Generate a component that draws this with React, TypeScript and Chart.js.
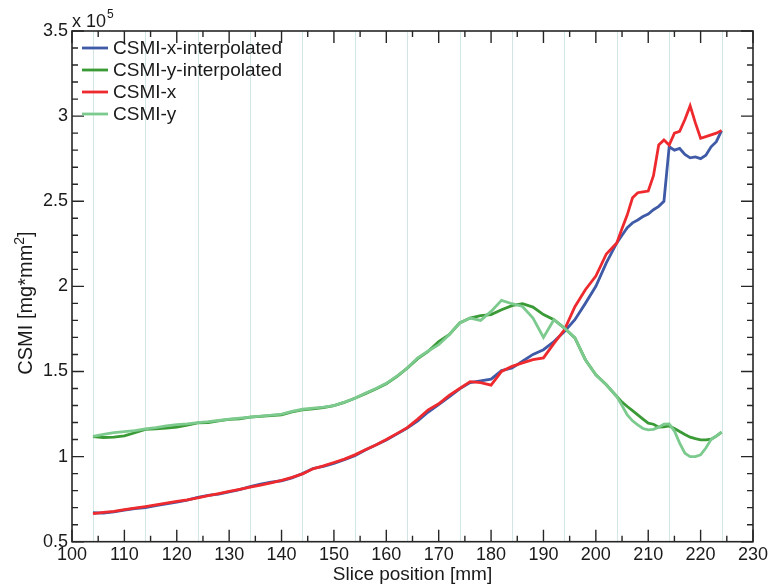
import React, { useEffect, useRef } from 'react';
import { Chart, registerables } from 'chart.js';

Chart.register(...registerables);

// Slice positions [mm]
const slicePositions = [
  104, 106, 108, 110, 112, 114, 116, 118, 120, 122, 124, 126, 128, 130, 132, 134, 136, 138, 140, 142,
  144, 146, 148, 150, 152, 154, 156, 158, 160, 162, 164, 166, 168, 170, 172, 174, 176, 178, 180, 182,
  184, 186, 188, 190, 192, 194, 196, 198, 200, 202, 204,
  205, 206, 207, 208, 209, 210, 211, 212, 213, 214, 215, 216, 217, 218, 219, 220, 221, 222, 223, 224,
];

// CSMI values (x 10^5 mg*mm^2)
const csmiXInterpolated = [
  0.670, 0.668, 0.675, 0.685, 0.695, 0.700, 0.712, 0.722, 0.733, 0.744, 0.760, 0.772, 0.780, 0.792, 0.806, 0.824, 0.838, 0.850, 0.858, 0.875,
  0.900, 0.930, 0.942, 0.960, 0.982, 1.005, 1.038, 1.068, 1.098, 1.132, 1.168, 1.210, 1.262, 1.305, 1.350, 1.398, 1.435, 1.445, 1.455, 1.505,
  1.520, 1.560, 1.600, 1.628, 1.676, 1.735, 1.804, 1.900, 2.000, 2.138, 2.255,
  2.300, 2.345, 2.373, 2.390, 2.410, 2.425, 2.450, 2.470, 2.500, 2.820, 2.800, 2.810, 2.775, 2.755, 2.760, 2.750, 2.770, 2.820, 2.850, 2.915,
];

const csmiYInterpolated = [
  1.118, 1.112, 1.114, 1.122, 1.140, 1.160, 1.163, 1.168, 1.173, 1.185, 1.198, 1.200, 1.210, 1.218, 1.222, 1.232, 1.236, 1.240, 1.245, 1.262,
  1.275, 1.280, 1.288, 1.300, 1.318, 1.343, 1.370, 1.397, 1.428, 1.470, 1.520, 1.575, 1.618, 1.676, 1.716, 1.785, 1.814, 1.828, 1.834, 1.863,
  1.887, 1.898, 1.878, 1.834, 1.804, 1.755, 1.697, 1.569, 1.480, 1.422, 1.353,
  1.320, 1.294, 1.270, 1.245, 1.220, 1.196, 1.190, 1.173, 1.175, 1.180, 1.165, 1.147, 1.130, 1.114, 1.105, 1.098, 1.098, 1.102, 1.120, 1.143,
];

const csmiX = [
  0.665, 0.672, 0.678, 0.688, 0.697, 0.706, 0.716, 0.726, 0.737, 0.746, 0.757, 0.770, 0.782, 0.795, 0.807, 0.820, 0.833, 0.846, 0.860, 0.878,
  0.898, 0.928, 0.945, 0.965, 0.985, 1.010, 1.040, 1.068, 1.100, 1.135, 1.170, 1.220, 1.275, 1.310, 1.360, 1.400, 1.440, 1.435, 1.420, 1.500,
  1.530, 1.550, 1.570, 1.580, 1.665, 1.745, 1.880, 1.980, 2.060, 2.190, 2.255,
  2.340, 2.420, 2.520, 2.550, 2.555, 2.560, 2.650, 2.830, 2.860, 2.830, 2.900, 2.910, 2.980, 3.060, 2.960, 2.870, 2.880, 2.890, 2.900, 2.915,
];

const csmiY = [
  1.118, 1.130, 1.141, 1.147, 1.152, 1.163, 1.170, 1.180, 1.188, 1.192, 1.200, 1.205, 1.212, 1.220, 1.226, 1.232, 1.238, 1.243, 1.250, 1.265,
  1.278, 1.285, 1.290, 1.300, 1.320, 1.343, 1.372, 1.400, 1.430, 1.472, 1.520, 1.580, 1.620, 1.657, 1.716, 1.785, 1.814, 1.800, 1.853, 1.918,
  1.898, 1.882, 1.814, 1.700, 1.804, 1.755, 1.697, 1.569, 1.480, 1.422, 1.353,
  1.300, 1.245, 1.210, 1.186, 1.165, 1.157, 1.160, 1.173, 1.190, 1.192, 1.150, 1.079, 1.020, 1.000, 1.000, 1.010, 1.050, 1.100, 1.120, 1.143,
];

const seriesNames = ['CSMI-x-interpolated', 'CSMI-y-interpolated', 'CSMI-x', 'CSMI-y'];
const seriesColors = ['#3f5aa6', '#3a9a35', '#ee2a2e', '#7cca8e'];

// Axis ticks
const xMajorTicks = [100, 110, 120, 130, 140, 150, 160, 170, 180, 190, 200, 210, 220, 230];
const xMinorTicks = [105, 115, 125, 135, 145, 155, 165, 175, 185, 195, 205, 215, 225];
const yMajorTicks = [0.5, 1, 1.5, 2, 2.5, 3, 3.5];
const yMinorTicks = [
  0.6, 0.7, 0.8, 0.9, 1.1, 1.2, 1.3, 1.4, 1.6, 1.7, 1.8, 1.9, 2.1, 2.2, 2.3, 2.4, 2.6, 2.7, 2.8, 2.9,
  3.1, 3.2, 3.3, 3.4,
];
const yTickLabels = ['0.5', '1', '1.5', '2', '2.5', '3', '3.5'];
const sliceGridPositions = [104, 114, 124, 134, 144, 154, 164, 174, 184, 194, 204, 214, 224];

const FONT = '"Liberation Sans", Arial, Helvetica, sans-serif';
const AXIS_COLOR = '#262626';

const decorPlugin = {
  id: 'decor',
  beforeDatasetsDraw(chart: any) {
    const { ctx, chartArea: a, scales } = chart;
    const x = scales.x;
    ctx.save();
    ctx.strokeStyle = '#d3e6e6';
    ctx.lineWidth = 1;
    for (const g of sliceGridPositions) {
      const px = Math.round(x.getPixelForValue(g)) + 0.5;
      ctx.beginPath();
      ctx.moveTo(px, a.top);
      ctx.lineTo(px, a.bottom);
      ctx.stroke();
    }
    ctx.restore();
  },
  afterDraw(chart: any) {
    const { ctx, chartArea: a, scales } = chart;
    const x = scales.x;
    const y = scales.y;
    ctx.save();
    // box
    ctx.strokeStyle = AXIS_COLOR;
    ctx.lineWidth = 1.6;
    ctx.strokeRect(a.left, a.top, a.right - a.left, a.bottom - a.top);
    // ticks
    ctx.lineWidth = 1.4;
    const MAJ = 12;
    const MIN = 6;
    const drawX = (v: number, len: number) => {
      const px = x.getPixelForValue(v);
      ctx.beginPath();
      ctx.moveTo(px, a.bottom);
      ctx.lineTo(px, a.bottom - len);
      ctx.moveTo(px, a.top);
      ctx.lineTo(px, a.top + len);
      ctx.stroke();
    };
    const drawY = (v: number, len: number) => {
      const py = y.getPixelForValue(v);
      ctx.beginPath();
      ctx.moveTo(a.left, py);
      ctx.lineTo(a.left + len, py);
      ctx.moveTo(a.right, py);
      ctx.lineTo(a.right - len, py);
      ctx.stroke();
    };
    xMajorTicks.forEach((v) => drawX(v, MAJ));
    xMinorTicks.forEach((v) => drawX(v, MIN));
    yMajorTicks.forEach((v) => drawY(v, MAJ));
    yMinorTicks.forEach((v) => drawY(v, MIN));

    // legend
    ctx.font = `19px ${FONT}`;
    ctx.textBaseline = 'middle';
    ctx.textAlign = 'left';
    seriesNames.forEach((name, i) => {
      const cy = a.top + 17 + i * 22;
      ctx.strokeStyle = seriesColors[i];
      ctx.lineWidth = 2.8;
      ctx.beginPath();
      ctx.moveTo(a.left + 10, cy);
      ctx.lineTo(a.left + 36, cy);
      ctx.stroke();
      ctx.fillStyle = '#1a1a1a';
      ctx.fillText(name, a.left + 41, cy + 1);
    });

    // exponent label
    ctx.fillStyle = '#1a1a1a';
    ctx.textBaseline = 'alphabetic';
    ctx.font = `18px ${FONT}`;
    ctx.fillText('x 10', a.left, a.top - 4);
    const w10 = ctx.measureText('x 10').width;
    ctx.font = `12px ${FONT}`;
    ctx.fillText('5', a.left + w10 + 1, a.top - 13);

    // x title
    ctx.font = `19px ${FONT}`;
    ctx.textAlign = 'center';
    ctx.fillText('Slice position [mm]', (a.left + a.right) / 2, 580);

    // y title
    ctx.save();
    ctx.translate(32, 303);
    ctx.rotate(-Math.PI / 2);
    const main = 'CSMI [mg*mm';
    ctx.font = `20px ${FONT}`;
    const wMain = ctx.measureText(main).width;
    ctx.font = `14px ${FONT}`;
    const wSup = ctx.measureText('2').width;
    ctx.font = `20px ${FONT}`;
    const wEnd = ctx.measureText(']').width;
    const total = wMain + wSup + wEnd;
    let cx = -total / 2;
    ctx.textAlign = 'left';
    ctx.fillText(main, cx, 0);
    cx += wMain;
    ctx.font = `14px ${FONT}`;
    ctx.fillText('2', cx, -8);
    cx += wSup;
    ctx.font = `20px ${FONT}`;
    ctx.fillText(']', cx, 0);
    ctx.restore();

    ctx.restore();
  },
};

export default function App() {
  const canvasRef = useRef<HTMLCanvasElement | null>(null);

  useEffect(() => {
    const canvas = canvasRef.current;
    if (!canvas) return;
    const seriesValues = [csmiXInterpolated, csmiYInterpolated, csmiX, csmiY];
    const drawOrder = [4, 3, 2, 1];
    const chart = new Chart(canvas, {
      type: 'line',
      data: {
        datasets: seriesNames.map((name, i) => ({
          label: name,
          data: slicePositions.map((p, j) => ({ x: p, y: seriesValues[i][j] })),
          borderColor: seriesColors[i],
          backgroundColor: seriesColors[i],
          borderWidth: 2.8,
          pointRadius: 0,
          tension: 0,
          fill: false,
          order: drawOrder[i],
        })),
      },
      options: {
        responsive: false,
        animation: false,
        devicePixelRatio: 1,
        events: [],
        layout: { padding: { left: 0, right: 19, top: 31, bottom: 0 } },
        plugins: { legend: { display: false }, tooltip: { enabled: false } },
        scales: {
          x: {
            type: 'linear',
            min: 100,
            max: 230,
            grid: { display: false, drawTicks: false },
            border: { display: false },
            ticks: {
              font: { family: FONT, size: 18 },
              color: '#1a1a1a',
              padding: 3,
              maxRotation: 0,
              autoSkip: false,
            },
            afterBuildTicks: (s: any) => {
              s.ticks = xMajorTicks.map((v) => ({ value: v }));
            },
            afterFit: (s: any) => {
              s.height = 45.3;
            },
          },
          y: {
            type: 'linear',
            min: 0.5,
            max: 3.5,
            grid: { display: false, drawTicks: false },
            border: { display: false },
            ticks: {
              font: { family: FONT, size: 18 },
              color: '#1a1a1a',
              padding: 4,
              autoSkip: false,
              callback: (v: any) => {
                const idx = yMajorTicks.indexOf(Number(v));
                return idx >= 0 ? yTickLabels[idx] : '';
              },
            },
            afterBuildTicks: (s: any) => {
              s.ticks = yMajorTicks.map((v) => ({ value: v }));
            },
            afterFit: (s: any) => {
              s.width = 72;
            },
          },
        },
      },
      plugins: [decorPlugin],
    } as any);
    return () => chart.destroy();
  }, []);

  return (
    <div style={{ position: 'fixed', left: 0, top: 0, width: 772, height: 587, background: '#fff' }}>
      <canvas ref={canvasRef} width={772} height={587} style={{ display: 'block' }} />
    </div>
  );
}
